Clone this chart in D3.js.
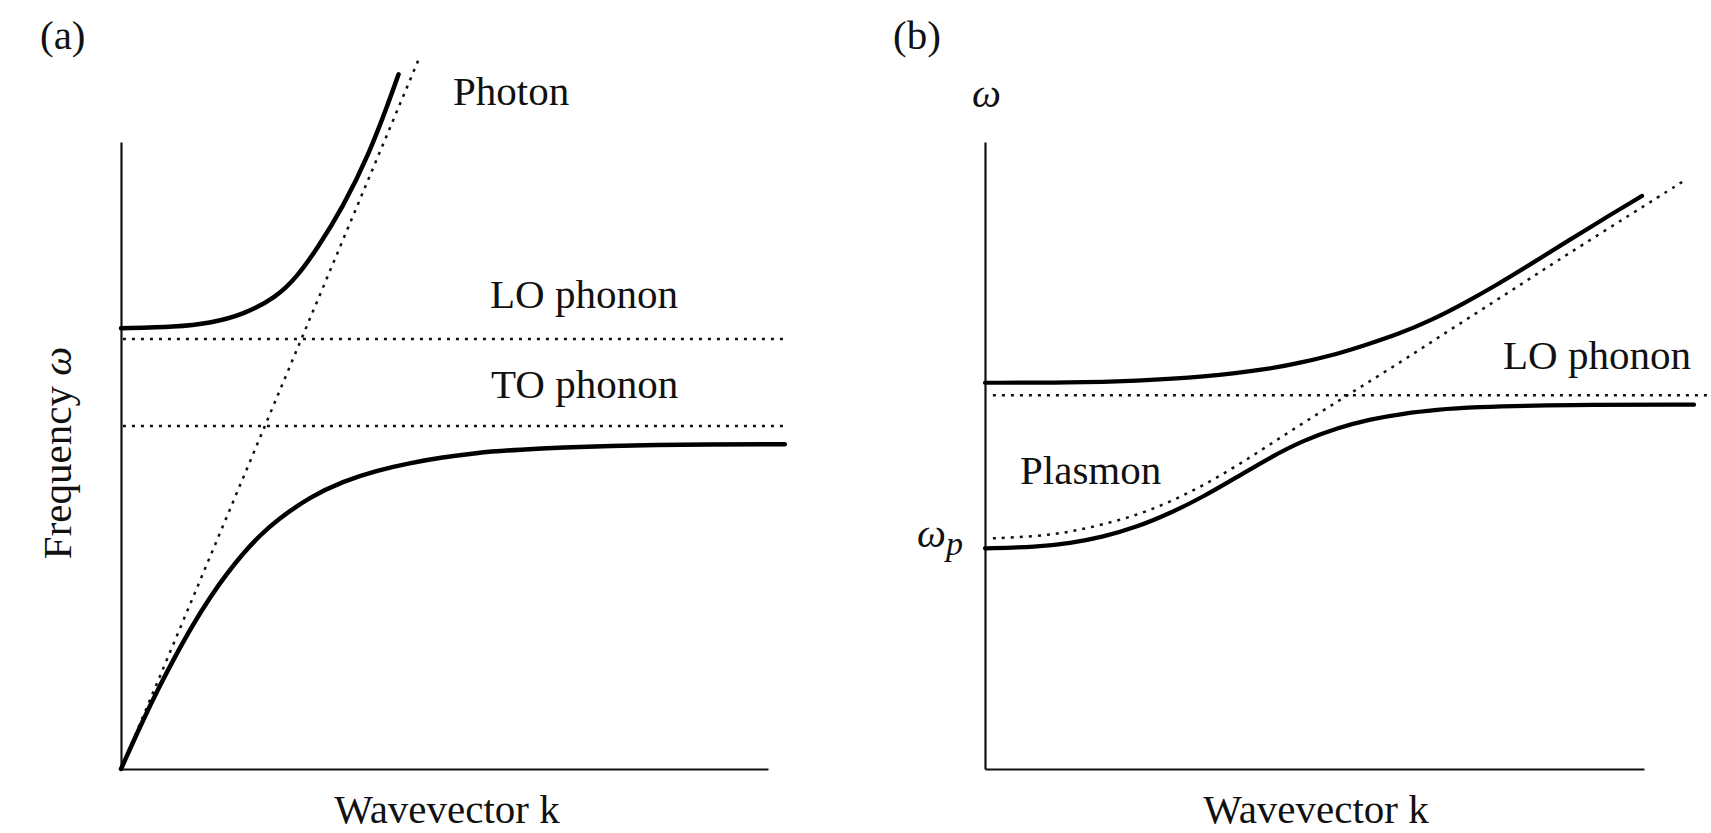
<!DOCTYPE html>
<html>
<head>
<meta charset="utf-8">
<script src="https://cdn.jsdelivr.net/npm/d3@7"></script>
<style>
  body { margin: 0; background: #fff; }
  svg text { font-family: "Liberation Serif", "Times New Roman", serif; font-size: 41px; fill: #111; }
  .axis path { stroke: #111; stroke-width: 2.2; }
  .solid { fill: none; stroke: #000; stroke-linecap: round; }
  .dotted { fill: none; stroke: #111; stroke-width: 2.5; stroke-dasharray: 3, 6; }
</style>
</head>
<body>
<svg id="chart" width="1711" height="833"></svg>
<script>
// ---- panel (a): phonon polariton (k and omega in arbitrary units, 0..10 on the axes)
const photonK_a = [0, 4.61];
const photonW_a = [0, 11.34];
const upperK_a = [0, 0.86, 1.37, 1.88, 2.41, 2.72, 3.02, 3.43, 3.84, 4.15, 4.29];
const upperW_a = [7.03, 7.05, 7.11, 7.24, 7.53, 7.85, 8.28, 8.96, 9.82, 10.67, 11.08];
const lowerK_a = [0, 0.34, 0.60, 0.86, 1.11, 1.37, 1.64, 1.88, 2.15, 2.41, 2.92, 3.43, 3.95, 4.46, 4.97, 5.49, 6.00, 7.58, 9.15, 10.26];
const lowerW_a = [0, 0.78, 1.33, 1.84, 2.30, 2.73, 3.12, 3.43, 3.73, 3.97, 4.34, 4.59, 4.76, 4.88, 4.97, 5.04, 5.09, 5.16, 5.18, 5.18];
const levels_a = [6.86, 5.47];          // LO, TO phonon
const levelSpan_a = [0.03, 10.26];

// ---- panel (b): plasmon - LO phonon coupling
const plasmonK_b = [0.12, 0.79, 1.29, 1.79, 2.31, 2.81, 3.31, 3.83, 4.33, 4.83, 5.35, 5.74, 6.26, 6.76, 7.26, 7.78, 8.28, 8.78, 9.85, 10.59];
const plasmonW_b = [3.68, 3.71, 3.78, 3.90, 4.05, 4.26, 4.52, 4.84, 5.18, 5.52, 5.86, 6.12, 6.46, 6.80, 7.14, 7.49, 7.83, 8.17, 8.88, 9.37];
const upperK_b = [0, 1.29, 2.31, 3.31, 4.33, 4.83, 5.35, 5.74, 6.26, 6.76, 7.26, 7.78, 8.28, 8.78, 9.35, 9.97];
const upperW_b = [6.16, 6.16, 6.19, 6.25, 6.38, 6.49, 6.62, 6.75, 6.93, 7.15, 7.42, 7.73, 8.05, 8.38, 8.75, 9.14];
const lowerK_b = [0, 0.79, 1.29, 1.79, 2.31, 2.81, 3.31, 3.83, 4.33, 4.83, 5.35, 5.85, 6.35, 6.87, 7.33, 8.84, 10.76];
const lowerW_b = [3.52, 3.54, 3.60, 3.70, 3.86, 4.08, 4.34, 4.66, 4.97, 5.24, 5.44, 5.58, 5.67, 5.73, 5.77, 5.81, 5.81];
const levels_b = [5.96];                 // LO phonon
const levelSpan_b = [0.12, 11.05];

const svg = d3.select("#chart");

function makePanel(xRange) {
  return {
    x: d3.scaleLinear().domain([0, 10]).range(xRange),
    y: d3.scaleLinear().domain([0, 10]).range([769, 142])
  };
}

const pa = makePanel([121, 768]);
const pb = makePanel([985, 1644]);

function drawAxes(p) {
  svg.append("g").attr("class", "axis")
    .attr("transform", `translate(0,${p.y(0)})`)
    .call(d3.axisBottom(p.x).ticks(0).tickSizeOuter(0));
  svg.append("g").attr("class", "axis")
    .attr("transform", `translate(${p.x(0)},0)`)
    .call(d3.axisLeft(p.y).ticks(0).tickSizeOuter(0));
}

function lineGen(p) {
  return d3.line().x(d => p.x(d[0])).y(d => p.y(d[1])).curve(d3.curveBasis);
}

function drawCurve(p, ks, ws, cls, width) {
  const path = svg.append("path")
    .attr("class", cls)
    .attr("d", lineGen(p)(d3.zip(ks, ws)));
  if (width) path.attr("stroke-width", width);
}

function drawLevels(p, levels, span) {
  levels.forEach(w => {
    svg.append("path")
      .attr("class", "dotted")
      .attr("d", d3.line().x(d => p.x(d[0])).y(d => p.y(d[1]))([[span[0], w], [span[1], w]]));
  });
}

// panel (a)
drawAxes(pa);
drawLevels(pa, levels_a, levelSpan_a);
drawCurve(pa, photonK_a, photonW_a, "dotted");
drawCurve(pa, upperK_a, upperW_a, "solid", 4.5);
drawCurve(pa, lowerK_a, lowerW_a, "solid", 4.5);

// panel (b)
drawAxes(pb);
drawLevels(pb, levels_b, levelSpan_b);
drawCurve(pb, plasmonK_b, plasmonW_b, "dotted");
drawCurve(pb, upperK_b, upperW_b, "solid", 4.2);
drawCurve(pb, lowerK_b, lowerW_b, "solid", 4.2);

// labels
function label(x, y, txt) {
  return svg.append("text").attr("x", x).attr("y", y).text(txt);
}

label(40, 49, "(a)");
label(893, 49, "(b)");
label(453, 105, "Photon");
label(490, 308, "LO phonon");
label(491, 398, "TO phonon");
label(447, 823, "Wavevector k").attr("text-anchor", "middle");
label(1316, 823, "Wavevector k").attr("text-anchor", "middle");
label(1503, 369, "LO phonon");
label(1020, 484, "Plasmon");

svg.append("text").attr("x", 972).attr("y", 107)
  .style("font-style", "italic").text("ω");

const wp = svg.append("text").attr("x", 917).attr("y", 547);
wp.append("tspan").style("font-style", "italic").text("ω");
wp.append("tspan").style("font-style", "italic").style("font-size", "34px")
  .attr("dy", 8).text("p");

const yl = svg.append("text")
  .attr("transform", "translate(71,453) rotate(-90)")
  .attr("text-anchor", "middle");
yl.append("tspan").text("Frequency ");
yl.append("tspan").style("font-style", "italic").text("ω");
</script>
</body>
</html>
